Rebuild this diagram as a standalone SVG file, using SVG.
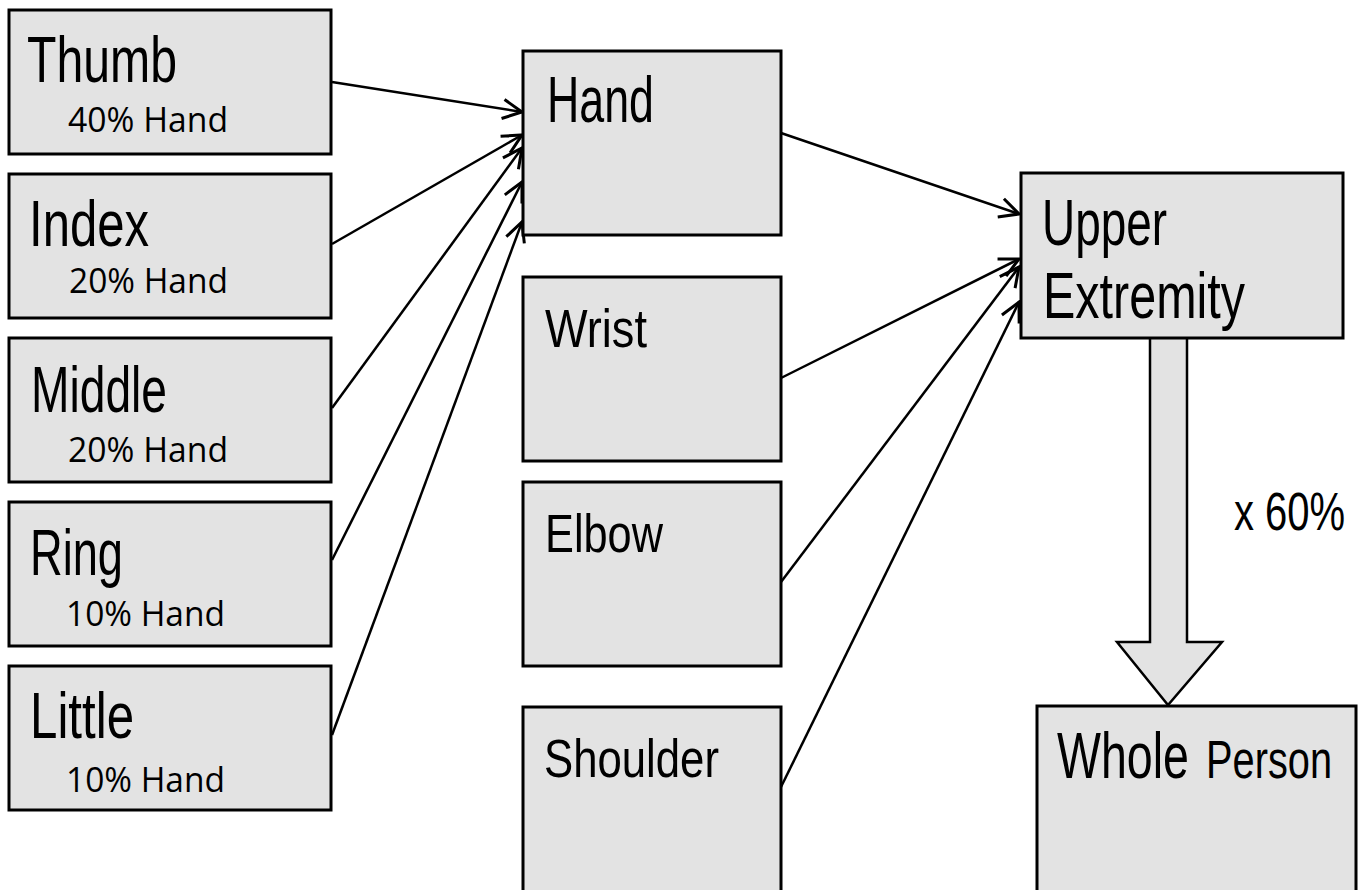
<svg xmlns="http://www.w3.org/2000/svg" width="1358" height="890" viewBox="0 0 1358 890">
<style>
.box{fill:#e3e3e3;stroke:#000;stroke-width:3}
.t{font-family:"Liberation Sans",Arial,sans-serif;font-size:64px;fill:#000}
.m{font-family:"Liberation Sans",Arial,sans-serif;font-size:54px;fill:#000}
.s{font-family:"Open Sans","Liberation Sans",sans-serif;font-size:35px;fill:#000}
.c{fill:none;stroke:#000;stroke-width:2.5}
</style>
<defs>
<marker id="ah" markerUnits="userSpaceOnUse" markerWidth="24" markerHeight="24" viewBox="0 0 20 20" refX="18" refY="10" orient="auto">
<path d="M2,2 L18,10 L2,18" fill="none" stroke="#000" stroke-width="2.5"/>
</marker>
</defs>
<rect width="1358" height="890" fill="#fff"/>
<g id="connectors">
<line class="c" x1="332" y1="82" x2="522" y2="112" marker-end="url(#ah)"/>
<line class="c" x1="332" y1="244" x2="522" y2="135" marker-end="url(#ah)"/>
<line class="c" x1="332" y1="408" x2="522" y2="148" marker-end="url(#ah)"/>
<line class="c" x1="332" y1="560" x2="522" y2="182" marker-end="url(#ah)"/>
<line class="c" x1="332" y1="735" x2="522" y2="222" marker-end="url(#ah)"/>
<line class="c" x1="781" y1="133" x2="1019" y2="214" marker-end="url(#ah)"/>
<line class="c" x1="781" y1="378" x2="1019" y2="259" marker-end="url(#ah)"/>
<line class="c" x1="781" y1="582" x2="1019" y2="267" marker-end="url(#ah)"/>
<line class="c" x1="781" y1="787" x2="1019" y2="302" marker-end="url(#ah)"/>
<path id="block-arrow" d="M1150,338 L1150,642 L1117,642 L1168,705 L1222,642 L1187,642 L1187,338" fill="#e3e3e3" stroke="#000" stroke-width="2.5"/>
<text class="m" transform="translate(1234,530) scale(0.8,1)" font-size="42" textLength="139" lengthAdjust="spacingAndGlyphs">x 60%</text>
</g>
<g id="thumb"><rect class="box" x="9" y="10" width="322" height="144"/>
<text class="t" transform="translate(27,82) scale(0.73,1)" textLength="205.5" lengthAdjust="spacingAndGlyphs">Thumb</text>
<text class="s" x="68" y="132" textLength="160" lengthAdjust="spacingAndGlyphs">40% Hand</text></g>
<g id="index"><rect class="box" x="9" y="174" width="322" height="144"/>
<text class="t" transform="translate(29,246) scale(0.73,1)" textLength="164.4" lengthAdjust="spacingAndGlyphs">Index</text>
<text class="s" x="69" y="293" textLength="159" lengthAdjust="spacingAndGlyphs">20% Hand</text></g>
<g id="middle"><rect class="box" x="9" y="338" width="322" height="144"/>
<text class="t" transform="translate(31,412) scale(0.73,1)" textLength="186.3" lengthAdjust="spacingAndGlyphs">Middle</text>
<text class="s" x="68" y="462" textLength="160" lengthAdjust="spacingAndGlyphs">20% Hand</text></g>
<g id="ring"><rect class="box" x="9" y="502" width="322" height="144"/>
<text class="t" transform="translate(30,575) scale(0.73,1)" textLength="127.4" lengthAdjust="spacingAndGlyphs">Ring</text>
<text class="s" x="66" y="626" textLength="159" lengthAdjust="spacingAndGlyphs">10% Hand</text></g>
<g id="little"><rect class="box" x="9" y="666" width="322" height="144"/>
<text class="t" transform="translate(30,738) scale(0.73,1)" textLength="142.5" lengthAdjust="spacingAndGlyphs">Little</text>
<text class="s" x="66" y="792" textLength="159" lengthAdjust="spacingAndGlyphs">10% Hand</text></g>
<g id="hand"><rect class="box" x="523" y="51" width="258" height="184"/>
<text class="t" transform="translate(547,122) scale(0.73,1)" textLength="146.6" lengthAdjust="spacingAndGlyphs">Hand</text></g>
<g id="wrist"><rect class="box" x="523" y="277" width="258" height="184"/>
<text class="m" transform="translate(545,347) scale(0.73,1)" textLength="139.7" lengthAdjust="spacingAndGlyphs">Wrist</text></g>
<g id="elbow"><rect class="box" x="523" y="482" width="258" height="184"/>
<text class="m" transform="translate(545,552) scale(0.73,1)" textLength="161.6" lengthAdjust="spacingAndGlyphs">Elbow</text></g>
<g id="shoulder"><rect class="box" x="523" y="707" width="258" height="200"/>
<text class="m" transform="translate(544,777) scale(0.73,1)" textLength="239.7" lengthAdjust="spacingAndGlyphs">Shoulder</text></g>
<g id="upper-extremity"><rect class="box" x="1021" y="173" width="322" height="165"/>
<text class="t" transform="translate(1042,245) scale(0.73,1)" textLength="171.2" lengthAdjust="spacingAndGlyphs">Upper</text>
<text class="t" transform="translate(1043,318) scale(0.73,1)" textLength="276.7" lengthAdjust="spacingAndGlyphs">Extremity</text></g>
<g id="whole-person"><rect class="box" x="1037" y="706" width="319" height="200"/>
<text class="t" transform="translate(1057,778) scale(0.73,1)" textLength="180.8" lengthAdjust="spacingAndGlyphs">Whole</text>
<text class="m" transform="translate(1206,778) scale(0.73,1)" textLength="172.6" lengthAdjust="spacingAndGlyphs">Person</text></g>
</svg>
